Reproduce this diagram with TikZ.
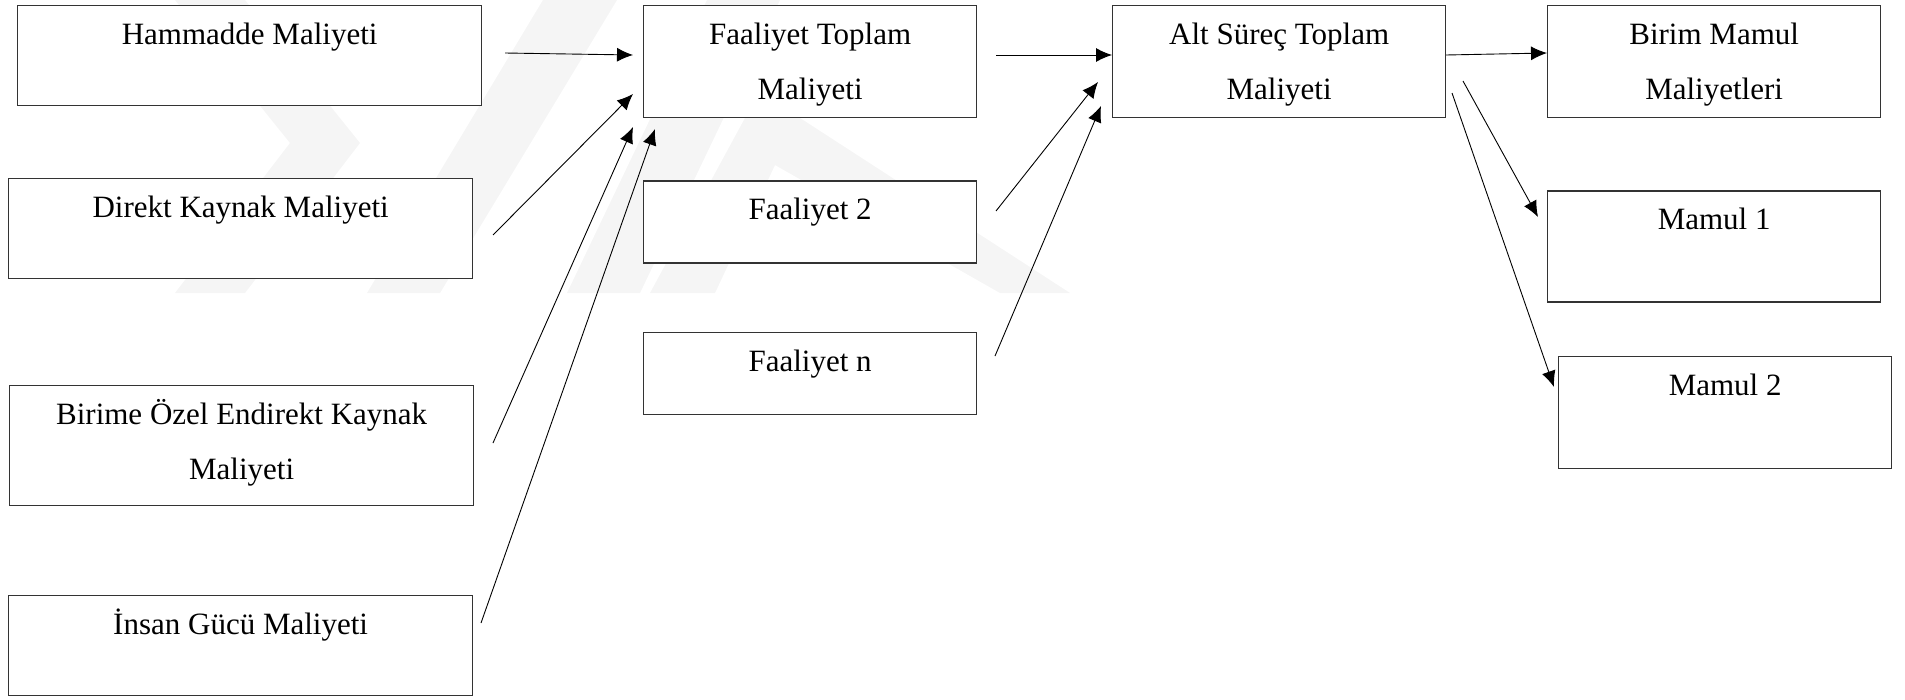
\documentclass[tikz,border=0pt]{standalone}
\usepackage{fontspec}
\setmainfont{Liberation Serif}
\usetikzlibrary{positioning}
\usetikzlibrary{arrows.meta}
\tikzset{x=1pt, y=-1pt,
    node distance=60pt,
    cost/.style={
        draw=black!80,
        line width=1.3pt,
        fill=white,
        inner sep=0pt,
        anchor=north west,
        align=center,
        font=\fontsize{31}{55}\selectfont,
        text height=39pt},
    twoline/.style={text height=94pt},
    wide/.style={minimum width=464pt},
    narrow/.style={minimum width=333pt},
    watermark/.style={fill=black!4},
    every edge/.style={
        draw,
        -{Latex[length=16pt,width=14pt]},
        line width=0.9pt}}

\begin{document}
\begin{tikzpicture}
        \useasboundingbox (0,0) rectangle (1905,699);
        % faint watermark behind the boxes
        \fill[watermark] (175,0) -- (245,0) -- (360,143) -- (245,293) -- (175,293) -- (290,143) -- cycle;
        \fill[watermark] (367,293) -- (440,293) -- (617,0) -- (543,0) -- cycle;
        \fill[watermark] (567,293) -- (640,293) -- (780,0) -- (707,0) -- cycle;
        \fill[watermark] (650,293) -- (745,118) -- (800,118) -- (1070,293) -- (1000,293) -- (775,165) -- (715,293) -- cycle;

        % kaynaklar
        \node[cost, wide, text depth=61pt] (ham) at (17,5) {Hammadde Maliyeti};
        \node[cost, wide, text depth=61pt] (dk) at (8,178) {Direkt Kaynak Maliyeti};
        \node[cost, wide, twoline, text depth=26pt] (bek) at (9,385) {Birime Özel Endirekt Kaynak\\Maliyeti};
        \node[cost, wide, text depth=61pt] (ig) at (8,595) {İnsan Gücü Maliyeti};
        % faaliyetler
        \node[cost, narrow, twoline, text depth=18pt] (ft) at (643,5) {Faaliyet Toplam\\Maliyeti};
        \node[cost, narrow, text depth=43pt, below=62pt of ft] (f2) {Faaliyet 2};
        \node[cost, narrow, text depth=43pt, below=68pt of f2] (fn) {Faaliyet n};
        \node[cost, narrow, twoline, text depth=18pt] (alt) at (1112,5) {Alt Süreç Toplam\\Maliyeti};
        % mamuller
        \node[cost, narrow, twoline, text depth=18pt] (bm) at (1547,5) {Birim Mamul\\Maliyetleri};
        \node[cost, narrow, text depth=72pt, below=72pt of bm] (m1) {Mamul 1};
        \node[cost, narrow, text depth=73pt] (m2) at (1558,356) {Mamul 2};

        \coordinate (hamo) at (505,53);
        \coordinate (dko) at (493,235);
        \coordinate (beko) at (493,443);
        \coordinate (igo) at (481,623);
        \coordinate (fti1) at (633,55);
        \coordinate (fti2) at (633,94);
        \coordinate (fti3) at (633,127);
        \coordinate (fti4) at (655,129);
        \coordinate (fto) at (996,55);
        \coordinate (f2o) at (996,211);
        \coordinate (fno) at (995,356);
        \coordinate (alti1) at (1112,55);
        \coordinate (alti2) at (1098,82);
        \coordinate (alti3) at (1101,106);
        \coordinate (alto1) at (1446,55);
        \coordinate (alto2) at (1463,81);
        \coordinate (alto3) at (1452,93);
        \coordinate (bmi) at (1547,53);
        \coordinate (m1i) at (1538,217);
        \coordinate (m2i) at (1554,387);

        \draw (hamo) edge (fti1);
        \draw (dko) edge (fti2);
        \draw (beko) edge (fti3);
        \draw (igo) edge (fti4);
        \draw (fto) edge (alti1);
        \draw (f2o) edge (alti2);
        \draw (fno) edge (alti3);
        \draw (alto1) edge (bmi);
        \draw (alto2) edge (m1i);
        \draw (alto3) edge (m2i);
\end{tikzpicture}
\end{document}
